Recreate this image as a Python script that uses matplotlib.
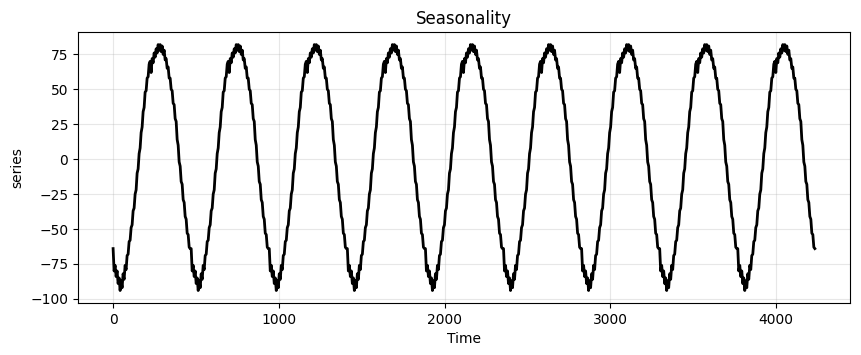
import numpy as np
import matplotlib
matplotlib.use("Agg")
import matplotlib.pyplot as plt

# one seasonal cycle (the component repeats exactly)
cycle_values = [
    -64, -80, -76, -84, -80, -89, -85, -94, -87, -92,
    -82, -86, -76, -79, -69, -68, -59, -58, -49, -47,
    -37, -35, -25, -22, -10, -7, 4, 8, 19, 23,
    34, 37, 48, 49, 58, 59, 68, 70, 62, 72,
    69, 76, 73, 79, 76, 82, 78, 82, 77, 81,
    75, 78, 71, 72, 65, 66, 58, 58, 50, 49,
    40, 39, 29, 27, 14, 10, -2, -5, -16, -18,
    -29, -31, -41, -43, -53, -54, -63, -64,
]
period = 471          # time units per cycle
n_samples = 702       # samples in the plotted series

step = period / len(cycle_values)
n_cycles = int(np.ceil(n_samples / len(cycle_values)))
series = np.tile(cycle_values, n_cycles)[:n_samples]
time = np.arange(n_samples) * step

fig, ax = plt.subplots(figsize=(8.62, 3.55), dpi=100)
fig.subplots_adjust(left=0.0905, right=0.986, top=0.909, bottom=0.147)

ax.plot(time, series, color="black", linewidth=2.0)
ax.set_title("Seasonality")
ax.set_xlabel("Time")
ax.set_ylabel("series")
ax.grid(True, alpha=0.3)

fig.savefig("out.png", dpi=100)
